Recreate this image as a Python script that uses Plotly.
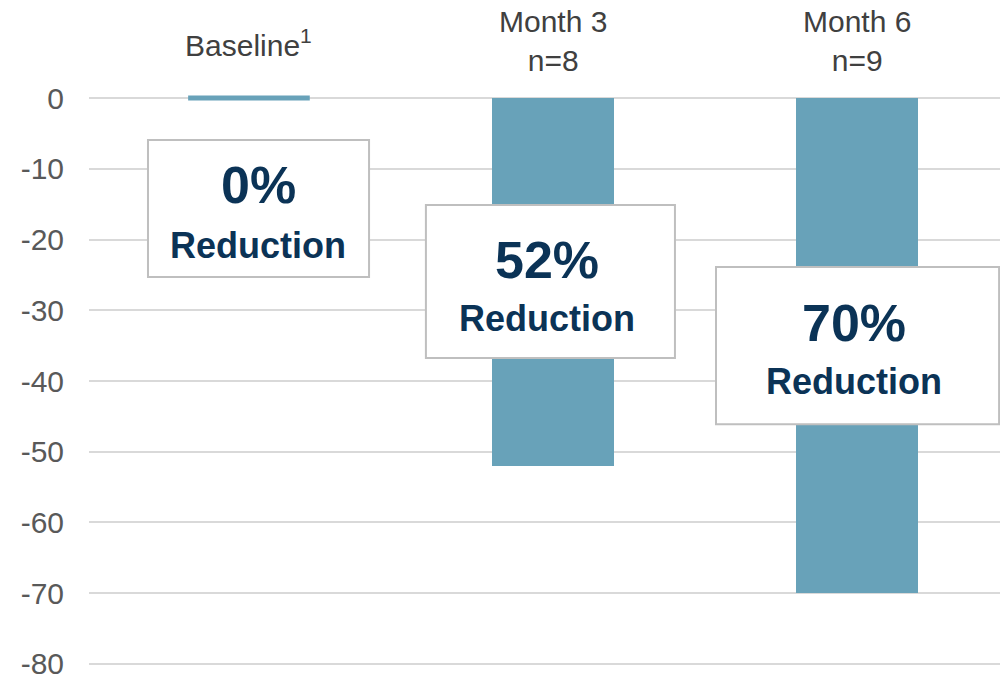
import plotly.graph_objects as go

# Data
categories = ["Baseline", "Month 3", "Month 6"]
header_labels = ["Baseline<sup>1</sup>", "Month 3<br>n=8", "Month 6<br>n=9"]
change_pct = [0, -52, -70]
reduction_labels = ["0%", "52%", "70%"]
y_ticks = [0, -10, -20, -30, -40, -50, -60, -70, -80]

BAR = "#68a2b9"
NAVY = "#0b3356"
GRID = "#d9d9d9"
TICK = "#595959"
FONT = "Liberation Sans, Arial, sans-serif"
BAR_W = 0.4

xpos = list(range(len(categories)))

fig = go.Figure()
fig.add_trace(go.Bar(
    x=xpos, y=change_pct, width=BAR_W,
    marker=dict(color=BAR, line=dict(width=0)),
    hoverinfo="skip", showlegend=False,
))

shapes = []
# zero-valued bars drawn as a thin bar at the baseline
for xv, v in zip(xpos, change_pct):
    if v == 0:
        shapes.append(dict(type="line", xref="x", yref="y",
                           x0=xv - BAR_W / 2, x1=xv + BAR_W / 2, y0=v, y1=v,
                           line=dict(color=BAR, width=5), layer="above"))

# callout boxes: (x0, x1, y0, y1) in axis units, and text centres
boxes = [
    dict(x0=-0.332, x1=0.395, y0=-5.94, y1=-25.3, tx=0.03, py=-12.3, ry=-20.8),
    dict(x0=0.582, x1=1.401, y0=-15.1, y1=-36.75, tx=0.98, py=-22.9, ry=-31.1),
    dict(x0=1.536, x1=2.467, y0=-23.9, y1=-46.1, tx=1.99, py=-31.8, ry=-40.0),
]

annotations = []
for b, lab in zip(boxes, reduction_labels):
    shapes.append(dict(type="rect", xref="x", yref="y",
                       x0=b["x0"], x1=b["x1"], y0=b["y0"], y1=b["y1"],
                       fillcolor="white", line=dict(color="#bfbfbf", width=2),
                       layer="above"))
    annotations.append(dict(xref="x", yref="y", x=b["tx"], y=b["py"],
                            text=f"<b>{lab}</b>", showarrow=False,
                            xanchor="center", yanchor="middle",
                            font=dict(family=FONT, size=52, color=NAVY)))
    annotations.append(dict(xref="x", yref="y", x=b["tx"], y=b["ry"],
                            text="<b>Reduction</b>", showarrow=False,
                            xanchor="center", yanchor="middle",
                            font=dict(family=FONT, size=36, color=NAVY)))

# column headers above the plot
header_y = [1.082, 1.086, 1.086]
for xv, lab, hy in zip(xpos, header_labels, header_y):
    annotations.append(dict(xref="x", yref="paper", x=xv, y=hy,
                            text=lab, showarrow=False,
                            xanchor="center", yanchor="middle",
                            font=dict(family=FONT, size=30, color="#404040")))

fig.update_layout(
    width=1000, height=676,
    margin=dict(l=89, r=0, t=91, b=5, autoexpand=False),
    paper_bgcolor="white", plot_bgcolor="white",
    shapes=shapes, annotations=annotations,
    bargap=0,
    xaxis=dict(range=[-0.526, 2.470], showticklabels=False, showgrid=False,
               zeroline=False, showline=False, fixedrange=True,
               automargin=False),
    yaxis=dict(range=[-81, 1], tickvals=y_ticks,
               ticktext=[str(t) for t in y_ticks],
               showgrid=True, gridcolor=GRID, gridwidth=2,
               zeroline=False, showline=False, ticks="",
               automargin=False,
               ticklabelstandoff=24, ticklabeloverflow="allow",
               tickfont=dict(family=FONT, size=30, color=TICK)),
)

fig.write_html("out.html")
